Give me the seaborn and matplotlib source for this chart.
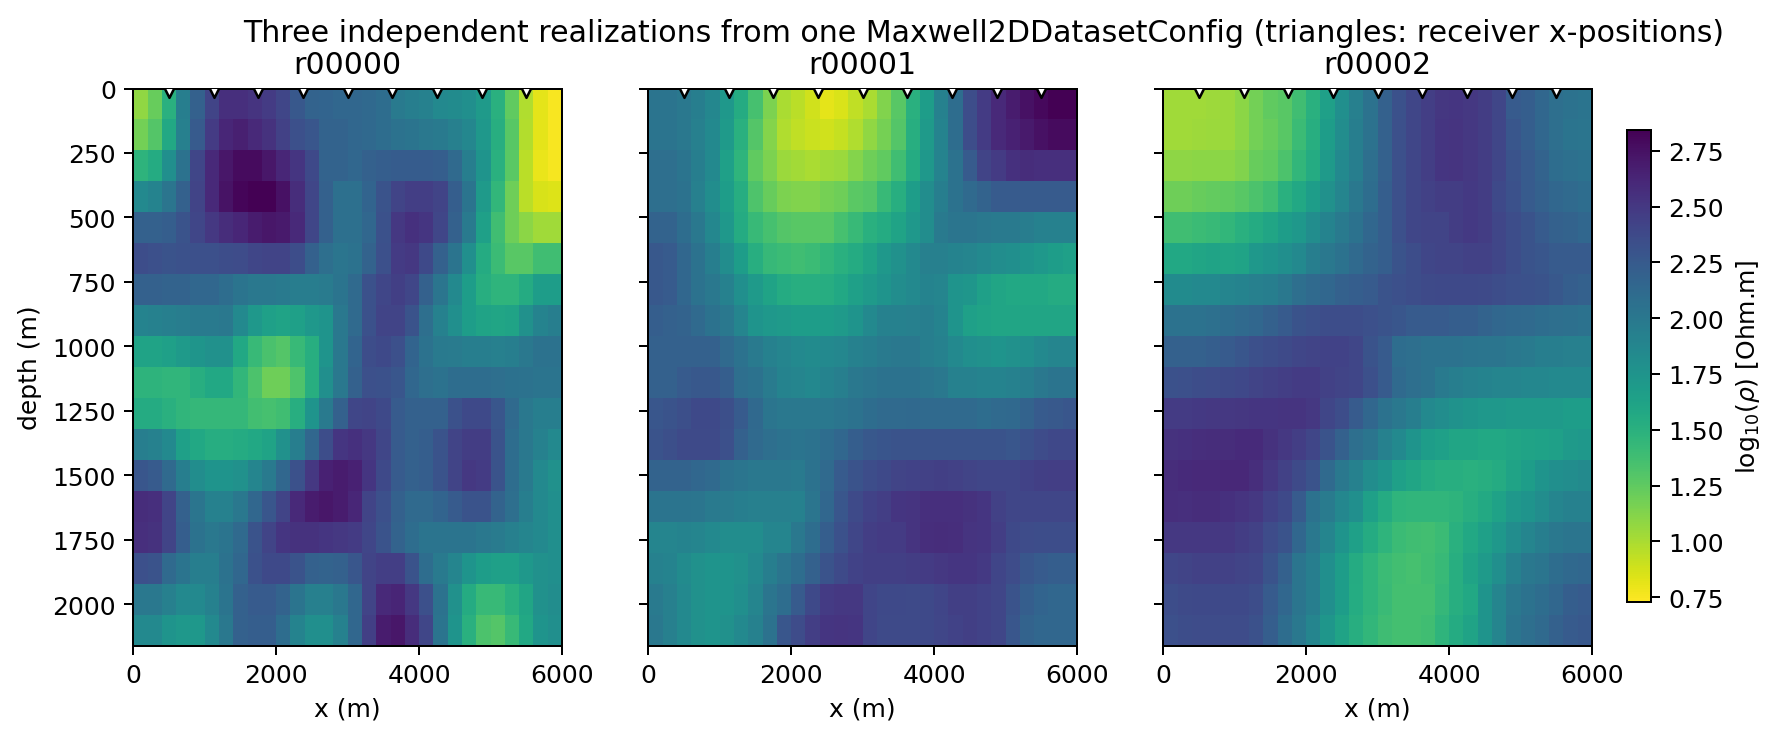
import numpy as np
import pandas as pd
import matplotlib
matplotlib.use("Agg")
import matplotlib.pyplot as plt
import seaborn as sns

# log10(rho), 18 depth rows x 30 x columns
r00000 = [
    [1.08,1.22,1.50,1.95,2.20,2.42,2.56,2.56,2.53,2.48,2.40,2.27,2.18,2.17,2.15,2.15,2.13,2.10,1.98,1.95,1.92,1.85,1.83,1.80,1.70,1.50,1.25,0.98,0.82,0.75],
    [1.18,1.30,1.58,1.93,2.25,2.48,2.62,2.66,2.60,2.54,2.44,2.33,2.28,2.18,2.18,2.15,2.13,2.10,2.05,2.03,2.00,1.98,1.93,1.87,1.72,1.52,1.28,0.97,0.82,0.75],
    [1.48,1.55,1.80,2.05,2.40,2.60,2.72,2.78,2.78,2.72,2.62,2.52,2.38,2.18,2.18,2.15,2.20,2.22,2.24,2.24,2.24,2.22,2.12,1.95,1.75,1.50,1.27,0.95,0.80,0.76],
    [1.85,1.90,2.02,2.20,2.42,2.60,2.74,2.82,2.85,2.85,2.75,2.58,2.40,2.20,2.07,2.07,2.17,2.30,2.42,2.46,2.46,2.42,2.22,2.03,1.70,1.45,1.20,0.95,0.86,0.84],
    [2.20,2.20,2.22,2.30,2.40,2.50,2.58,2.62,2.68,2.72,2.70,2.60,2.40,2.20,2.07,2.07,2.15,2.32,2.50,2.55,2.52,2.40,2.20,1.98,1.65,1.38,1.20,1.10,1.03,1.03],
    [2.35,2.33,2.30,2.32,2.33,2.33,2.35,2.36,2.40,2.42,2.42,2.35,2.20,2.08,2.02,2.05,2.18,2.33,2.48,2.50,2.38,2.20,2.03,1.80,1.55,1.40,1.28,1.28,1.38,1.38],
    [2.20,2.20,2.18,2.18,2.15,2.15,2.10,2.03,2.00,2.00,1.98,1.96,1.96,1.97,2.03,2.12,2.32,2.40,2.45,2.40,2.20,2.02,1.85,1.68,1.52,1.47,1.47,1.55,1.68,1.68],
    [1.90,1.92,1.94,1.96,1.98,1.98,2.00,1.85,1.72,1.65,1.62,1.65,1.72,1.75,2.00,2.12,2.32,2.42,2.42,2.30,2.08,1.92,1.80,1.68,1.62,1.60,1.62,1.78,1.90,1.95],
    [1.62,1.62,1.65,1.70,1.74,1.78,1.78,1.58,1.42,1.34,1.30,1.42,1.52,1.75,2.00,2.17,2.35,2.38,2.33,2.17,2.05,1.98,1.97,1.95,1.95,1.93,1.95,2.00,2.05,2.05],
    [1.48,1.48,1.46,1.46,1.52,1.58,1.58,1.45,1.33,1.20,1.20,1.32,1.52,1.80,2.00,2.20,2.33,2.32,2.28,2.15,2.08,2.05,2.10,2.10,2.10,2.08,2.06,2.05,2.03,2.03],
    [1.55,1.55,1.50,1.46,1.44,1.44,1.44,1.44,1.37,1.35,1.38,1.52,1.75,1.98,2.20,2.40,2.42,2.38,2.25,2.20,2.20,2.20,2.32,2.38,2.38,2.28,2.12,2.00,1.95,1.95],
    [1.95,1.92,1.85,1.65,1.58,1.53,1.53,1.55,1.58,1.62,1.78,1.95,2.15,2.35,2.52,2.55,2.50,2.40,2.25,2.20,2.22,2.30,2.42,2.47,2.47,2.30,2.10,2.00,1.92,1.85],
    [2.28,2.25,2.12,1.95,1.82,1.75,1.75,1.78,1.88,1.98,2.15,2.32,2.50,2.65,2.68,2.65,2.52,2.38,2.25,2.20,2.22,2.30,2.42,2.50,2.48,2.30,2.10,1.98,1.85,1.78],
    [2.58,2.56,2.42,2.20,2.02,1.92,1.92,2.00,2.15,2.28,2.42,2.60,2.68,2.72,2.68,2.62,2.42,2.33,2.20,2.12,2.12,2.17,2.25,2.30,2.30,2.18,2.08,1.95,1.85,1.80],
    [2.56,2.54,2.42,2.22,2.05,2.00,2.03,2.12,2.30,2.42,2.52,2.54,2.54,2.52,2.50,2.48,2.40,2.30,2.18,2.10,2.03,2.03,2.03,2.03,2.00,1.97,1.93,1.88,1.85,1.80],
    [2.33,2.30,2.12,2.03,1.95,1.95,2.05,2.15,2.32,2.38,2.38,2.30,2.20,2.18,2.20,2.28,2.42,2.46,2.46,2.30,2.10,1.98,1.88,1.75,1.68,1.65,1.65,1.72,1.78,1.80],
    [2.00,2.00,1.93,1.85,1.85,1.92,2.03,2.20,2.25,2.25,2.18,2.03,1.93,1.93,2.00,2.15,2.42,2.60,2.63,2.50,2.33,2.05,1.78,1.55,1.42,1.42,1.50,1.60,1.78,1.82],
    [1.85,1.85,1.75,1.72,1.72,1.85,2.00,2.20,2.22,2.22,2.10,1.90,1.80,1.80,1.92,2.15,2.45,2.68,2.72,2.58,2.40,2.03,1.75,1.50,1.33,1.30,1.42,1.58,1.75,1.80],
]
r00001 = [
    [2.03,2.03,2.00,1.95,1.87,1.72,1.55,1.35,1.15,1.00,0.95,0.88,0.82,0.85,0.93,1.00,1.13,1.28,1.50,1.68,1.92,2.10,2.35,2.48,2.60,2.68,2.75,2.80,2.84,2.84],
    [2.03,2.03,2.00,1.93,1.85,1.70,1.50,1.30,1.12,0.98,0.93,0.90,0.88,0.92,0.98,1.08,1.17,1.30,1.52,1.70,1.90,2.10,2.35,2.48,2.60,2.65,2.70,2.75,2.78,2.78],
    [2.08,2.08,2.03,1.95,1.85,1.65,1.47,1.25,1.15,1.05,1.02,1.00,1.03,1.05,1.12,1.20,1.25,1.38,1.55,1.72,1.90,2.05,2.25,2.42,2.48,2.55,2.58,2.56,2.56,2.56],
    [2.08,2.08,2.05,1.93,1.82,1.68,1.53,1.32,1.22,1.15,1.13,1.13,1.17,1.20,1.27,1.30,1.42,1.52,1.68,1.82,1.95,2.05,2.12,2.18,2.25,2.25,2.25,2.25,2.25,2.25],
    [2.18,2.18,2.10,2.00,1.87,1.72,1.55,1.42,1.35,1.30,1.28,1.28,1.28,1.35,1.42,1.50,1.55,1.62,1.72,1.82,1.98,2.02,2.02,2.00,1.98,1.98,1.96,1.92,1.92,1.92],
    [2.27,2.25,2.15,2.05,1.95,1.82,1.68,1.52,1.43,1.40,1.38,1.40,1.45,1.50,1.55,1.62,1.72,1.78,1.85,1.93,1.93,1.90,1.88,1.85,1.82,1.80,1.75,1.72,1.68,1.65],
    [2.27,2.25,2.15,2.05,2.00,1.92,1.80,1.70,1.62,1.55,1.52,1.52,1.53,1.58,1.65,1.70,1.75,1.82,1.85,1.90,1.88,1.75,1.73,1.65,1.60,1.58,1.58,1.58,1.55,1.55],
    [2.22,2.20,2.18,2.12,2.05,2.00,1.88,1.75,1.72,1.70,1.68,1.68,1.68,1.70,1.75,1.85,1.92,1.92,1.93,1.95,1.90,1.75,1.65,1.62,1.60,1.60,1.60,1.60,1.60,1.60],
    [2.20,2.20,2.20,2.20,2.20,2.12,2.05,1.98,1.92,1.88,1.85,1.83,1.85,1.87,1.92,1.95,1.98,2.00,2.00,1.95,1.92,1.85,1.80,1.78,1.75,1.78,1.80,1.85,1.88,1.88],
    [2.20,2.20,2.25,2.27,2.27,2.22,2.08,2.05,1.97,1.90,1.88,1.86,1.90,1.94,2.00,2.02,2.05,2.05,2.05,2.02,2.00,1.92,1.92,1.90,1.90,1.92,1.95,2.00,2.03,2.03],
    [2.28,2.30,2.34,2.38,2.38,2.34,2.25,2.13,2.02,2.00,2.00,2.00,2.00,2.02,2.05,2.10,2.12,2.12,2.13,2.12,2.12,2.12,2.12,2.10,2.12,2.13,2.18,2.25,2.26,2.28],
    [2.30,2.34,2.37,2.37,2.37,2.33,2.20,2.12,2.08,2.05,2.03,2.05,2.10,2.15,2.22,2.27,2.29,2.30,2.30,2.30,2.30,2.30,2.30,2.30,2.30,2.28,2.32,2.36,2.39,2.39],
    [2.18,2.18,2.18,2.15,2.12,2.05,2.02,2.00,2.00,2.00,1.98,2.05,2.12,2.25,2.30,2.35,2.38,2.42,2.43,2.44,2.45,2.44,2.42,2.40,2.40,2.40,2.43,2.45,2.46,2.46],
    [2.03,2.03,2.03,2.02,1.98,1.97,1.95,1.93,1.93,1.93,1.92,2.02,2.15,2.28,2.37,2.43,2.46,2.52,2.53,2.56,2.56,2.56,2.54,2.52,2.44,2.40,2.40,2.40,2.40,2.40],
    [1.88,1.88,1.90,1.88,1.85,1.82,1.82,1.82,1.88,1.88,2.00,2.10,2.22,2.32,2.40,2.46,2.48,2.48,2.53,2.57,2.58,2.57,2.53,2.52,2.46,2.38,2.36,2.35,2.35,2.35],
    [1.92,1.90,1.83,1.78,1.75,1.75,1.78,1.85,1.95,2.02,2.10,2.20,2.30,2.37,2.43,2.45,2.45,2.45,2.47,2.48,2.50,2.52,2.52,2.49,2.41,2.36,2.28,2.25,2.22,2.22],
    [1.98,1.93,1.85,1.78,1.75,1.75,1.80,1.88,2.02,2.10,2.25,2.38,2.48,2.50,2.50,2.41,2.38,2.38,2.37,2.38,2.41,2.45,2.45,2.43,2.40,2.30,2.22,2.17,2.15,2.15],
    [2.00,1.93,1.85,1.78,1.75,1.78,1.85,1.92,2.05,2.28,2.36,2.46,2.52,2.53,2.52,2.41,2.37,2.37,2.37,2.38,2.40,2.43,2.45,2.43,2.40,2.28,2.18,2.15,2.15,2.15],
]
r00002 = [
    [1.03,1.03,1.03,1.04,1.05,1.10,1.18,1.25,1.28,1.38,1.50,1.65,1.80,1.93,2.05,2.20,2.32,2.40,2.46,2.51,2.52,2.50,2.47,2.40,2.25,2.22,2.15,2.08,2.05,2.03],
    [1.03,1.03,1.04,1.05,1.05,1.10,1.18,1.22,1.28,1.40,1.52,1.68,1.82,1.95,2.05,2.20,2.33,2.40,2.46,2.52,2.53,2.50,2.47,2.40,2.28,2.22,2.15,2.08,2.03,2.02],
    [1.09,1.09,1.10,1.10,1.10,1.13,1.22,1.25,1.33,1.45,1.55,1.70,1.85,1.95,2.08,2.20,2.33,2.40,2.46,2.52,2.53,2.50,2.47,2.40,2.30,2.25,2.18,2.10,2.07,2.05],
    [1.20,1.20,1.22,1.24,1.25,1.28,1.33,1.38,1.50,1.58,1.68,1.78,1.88,2.00,2.10,2.22,2.33,2.40,2.44,2.47,2.47,2.49,2.47,2.38,2.32,2.25,2.20,2.15,2.12,2.10],
    [1.38,1.38,1.40,1.42,1.45,1.50,1.55,1.60,1.68,1.72,1.82,1.90,1.98,2.05,2.15,2.22,2.33,2.40,2.42,2.42,2.47,2.49,2.47,2.40,2.35,2.30,2.25,2.20,2.18,2.15],
    [1.58,1.58,1.60,1.62,1.60,1.62,1.72,1.75,1.80,1.85,1.95,2.00,2.05,2.12,2.18,2.22,2.30,2.35,2.40,2.42,2.42,2.44,2.44,2.40,2.35,2.30,2.28,2.25,2.25,2.25],
    [1.83,1.83,1.85,1.85,1.88,1.90,1.93,1.95,2.00,2.08,2.12,2.15,2.20,2.22,2.25,2.30,2.33,2.35,2.37,2.38,2.38,2.38,2.37,2.35,2.33,2.32,2.30,2.27,2.22,2.20],
    [2.05,2.05,2.05,2.07,2.10,2.12,2.15,2.20,2.25,2.30,2.33,2.35,2.35,2.35,2.33,2.30,2.28,2.25,2.25,2.25,2.22,2.22,2.18,2.15,2.13,2.12,2.10,2.08,2.07,2.05],
    [2.20,2.20,2.20,2.22,2.25,2.28,2.33,2.35,2.37,2.40,2.42,2.43,2.43,2.40,2.30,2.25,2.10,2.08,2.05,2.05,2.05,2.03,2.02,2.02,2.00,1.98,1.95,1.95,1.93,1.93],
    [2.32,2.33,2.35,2.36,2.37,2.39,2.42,2.44,2.46,2.48,2.48,2.44,2.42,2.40,2.33,2.25,2.12,2.08,2.05,1.98,1.95,1.92,1.90,1.88,1.88,1.87,1.87,1.85,1.85,1.85],
    [2.48,2.48,2.49,2.50,2.50,2.51,2.52,2.52,2.53,2.53,2.50,2.40,2.35,2.25,2.15,2.05,2.00,1.95,1.85,1.82,1.77,1.74,1.72,1.72,1.70,1.70,1.70,1.70,1.68,1.68],
    [2.54,2.55,2.57,2.58,2.58,2.59,2.59,2.54,2.50,2.46,2.40,2.30,2.20,2.08,2.02,1.92,1.85,1.75,1.68,1.65,1.60,1.60,1.58,1.58,1.60,1.62,1.63,1.65,1.70,1.72],
    [2.58,2.59,2.60,2.60,2.61,2.61,2.57,2.50,2.44,2.37,2.30,2.12,2.00,1.92,1.82,1.75,1.65,1.60,1.55,1.52,1.52,1.50,1.52,1.55,1.62,1.68,1.75,1.80,1.82,1.84],
    [2.57,2.56,2.58,2.58,2.55,2.53,2.50,2.43,2.38,2.25,2.05,1.97,1.87,1.80,1.65,1.55,1.47,1.46,1.46,1.46,1.48,1.52,1.57,1.63,1.72,1.75,1.82,1.88,1.92,1.92],
    [2.50,2.50,2.50,2.50,2.50,2.47,2.44,2.36,2.30,2.15,2.00,1.88,1.75,1.65,1.55,1.47,1.40,1.38,1.37,1.40,1.50,1.58,1.65,1.72,1.82,1.88,1.95,2.00,2.02,2.02],
    [2.40,2.42,2.44,2.44,2.44,2.42,2.40,2.30,2.20,2.02,1.95,1.80,1.68,1.55,1.47,1.40,1.37,1.35,1.38,1.42,1.52,1.62,1.70,1.80,1.92,2.00,2.02,2.10,2.13,2.15],
    [2.35,2.37,2.38,2.38,2.38,2.38,2.35,2.25,2.15,2.02,1.95,1.80,1.68,1.54,1.47,1.41,1.36,1.36,1.36,1.44,1.52,1.58,1.75,1.88,2.00,2.05,2.10,2.15,2.22,2.25],
    [2.33,2.35,2.36,2.36,2.36,2.36,2.32,2.22,2.10,2.00,1.88,1.73,1.62,1.52,1.45,1.39,1.36,1.36,1.38,1.47,1.55,1.62,1.75,1.88,2.02,2.08,2.12,2.20,2.25,2.27],
]
names = ["r00000", "r00001", "r00002"]
receivers_x = [500, 1125, 1750, 2375, 3000, 3625, 4250, 4875, 5500]
x_ticks = [0, 2000, 4000, 6000]
depth_ticks = [0, 250, 500, 750, 1000, 1250, 1500, 1750, 2000]
cbar_ticks = [0.75, 1.0, 1.25, 1.5, 1.75, 2.0, 2.25, 2.5, 2.75]
dx = 200
dz = 120
vmin, vmax = 0.73, 2.845

W, H = 1779, 737
sns.set_theme(style="ticks", rc={
    "axes.linewidth": 0.8, "xtick.major.width": 0.8, "ytick.major.width": 0.8,
    "text.color": "black", "axes.labelcolor": "black", "axes.edgecolor": "black",
    "xtick.color": "black", "ytick.color": "black",
})
plt.rcParams["font.family"] = ["DejaVu Sans"]


def px_axes(fig, left, top, right, bottom):
    return fig.add_axes([left / W, 1 - bottom / H, (right - left) / W, (bottom - top) / H])


fig = plt.figure(figsize=(W / 180, H / 180), dpi=180)
lefts = [133.3, 648.3, 1163.3]
cax = px_axes(fig, 1627, 130.7, 1651, 602.5)

for i, (name, grid) in enumerate(zip(names, [r00000, r00001, r00002])):
    ax = px_axes(fig, lefts[i], 89.5, lefts[i] + 428.7, 646.5)
    z = pd.DataFrame(grid)
    sns.heatmap(z, ax=ax, cmap="viridis_r", vmin=vmin, vmax=vmax, cbar=i == 2,
                cbar_ax=cax if i == 2 else None,
                xticklabels=False, yticklabels=False,
                cbar_kws={"ticks": cbar_ticks, "format": "%.2f"})
    rx = pd.DataFrame({"x": np.array(receivers_x) / dx, "y": np.zeros(len(receivers_x))})
    sns.scatterplot(data=rx, x="x", y="y", ax=ax, marker="v", s=45, color="white",
                    edgecolor="black", linewidth=1.0, legend=False, zorder=3)
    ax.set_xlim(0, 30)
    ax.set_ylim(18, 0)
    for s in ax.spines.values():
        s.set_visible(True)
        s.set_linewidth(0.8)
    ax.set_xticks(np.array(x_ticks) / dx, [str(t) for t in x_ticks])
    ax.set_yticks(np.array(depth_ticks) / dz)
    ax.tick_params(length=3.5, width=0.8, labelsize=10, left=True, bottom=True)
    ax.tick_params(axis="x", rotation=0)
    if i == 0:
        ax.set_yticklabels([str(t) for t in depth_ticks], rotation=0)
        ax.set_ylabel("depth (m)", fontsize=10, visible=True)
    else:
        ax.set_yticklabels([])
        ax.set_ylabel("")
    ax.set_xlabel("x (m)", fontsize=10, visible=True)
    ax.set_title(name, fontsize=12)

cb = ax.collections[0].colorbar
cb.outline.set_visible(True)
cb.outline.set_linewidth(0.8)
cb.outline.set_edgecolor("black")
cax.tick_params(length=3.5, width=0.8, labelsize=10, right=True)
cb.set_label(r"log$_{10}(\rho)$ [Ohm.m]", fontsize=10)

fig.suptitle("Three independent realizations from one Maxwell2DDatasetConfig (triangles: receiver x-positions)",
             fontsize=12, x=984 / W, y=1 - 34 / H, va="center")
fig.savefig("out.png", dpi=180)
